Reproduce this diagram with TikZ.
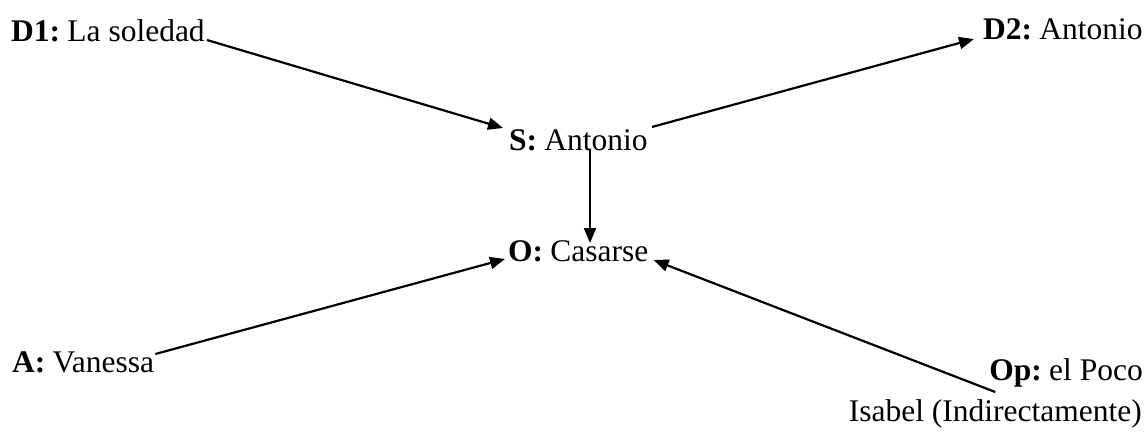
\documentclass[tikz,border=0pt]{standalone}
\usepackage{fontspec}
\setmainfont{Liberation Serif}
\usetikzlibrary{arrows.meta}
\newcommand{\lblsp}{\hspace{0.23em}}
\begin{document}
\begin{tikzpicture}[x=1pt,y=-1pt,
  lbl/.style={inner sep=0pt, font=\fontsize{31.5}{36}\selectfont},
  arr/.style={line width=2.2pt, -{Triangle[length=15pt,width=12pt]}}]
\useasboundingbox (0,0) rectangle (1148,431);
\node[lbl,anchor=base west] (d1) at (11,41) {\textbf{D1:}\lblsp La soledad};
\node[lbl,anchor=base west] (d2) at (983,39) {\textbf{D2:}\lblsp Antonio};
\node[lbl,anchor=base west] (s) at (509,150) {\textbf{S:}\lblsp Antonio};
\node[lbl,anchor=base west] (o) at (508,261) {\textbf{O:}\lblsp Casarse};
\node[lbl,anchor=base west] (a) at (12,372) {\textbf{A:}\lblsp Vanessa};
\node[lbl,anchor=base east] (op) at (1143,380) {\textbf{Op:}\lblsp el Poco};
\node[lbl,anchor=base east] (isa) at (1142,421) {Isabel (Indirectamente)};
\draw[arr] ([shift={(2,-1)}]d1.base east) -- ([shift={(-6,-22)}]s.base west);
\draw[arr] ([shift={(4,-23)}]s.base east) -- ([shift={(-9,0)}]d2.base west);
\draw[arr] ([shift={(81,0)}]s.base west) -- ([shift={(82,-18)}]o.base west);
\draw[arr] ([shift={(1,-18)}]a.base east) -- ([shift={(-3,-2)}]o.base west);
\draw[arr] ([shift={(6,12)}]op.base west) -- ([shift={(5,-1)}]o.base east);
\end{tikzpicture}
\end{document}
